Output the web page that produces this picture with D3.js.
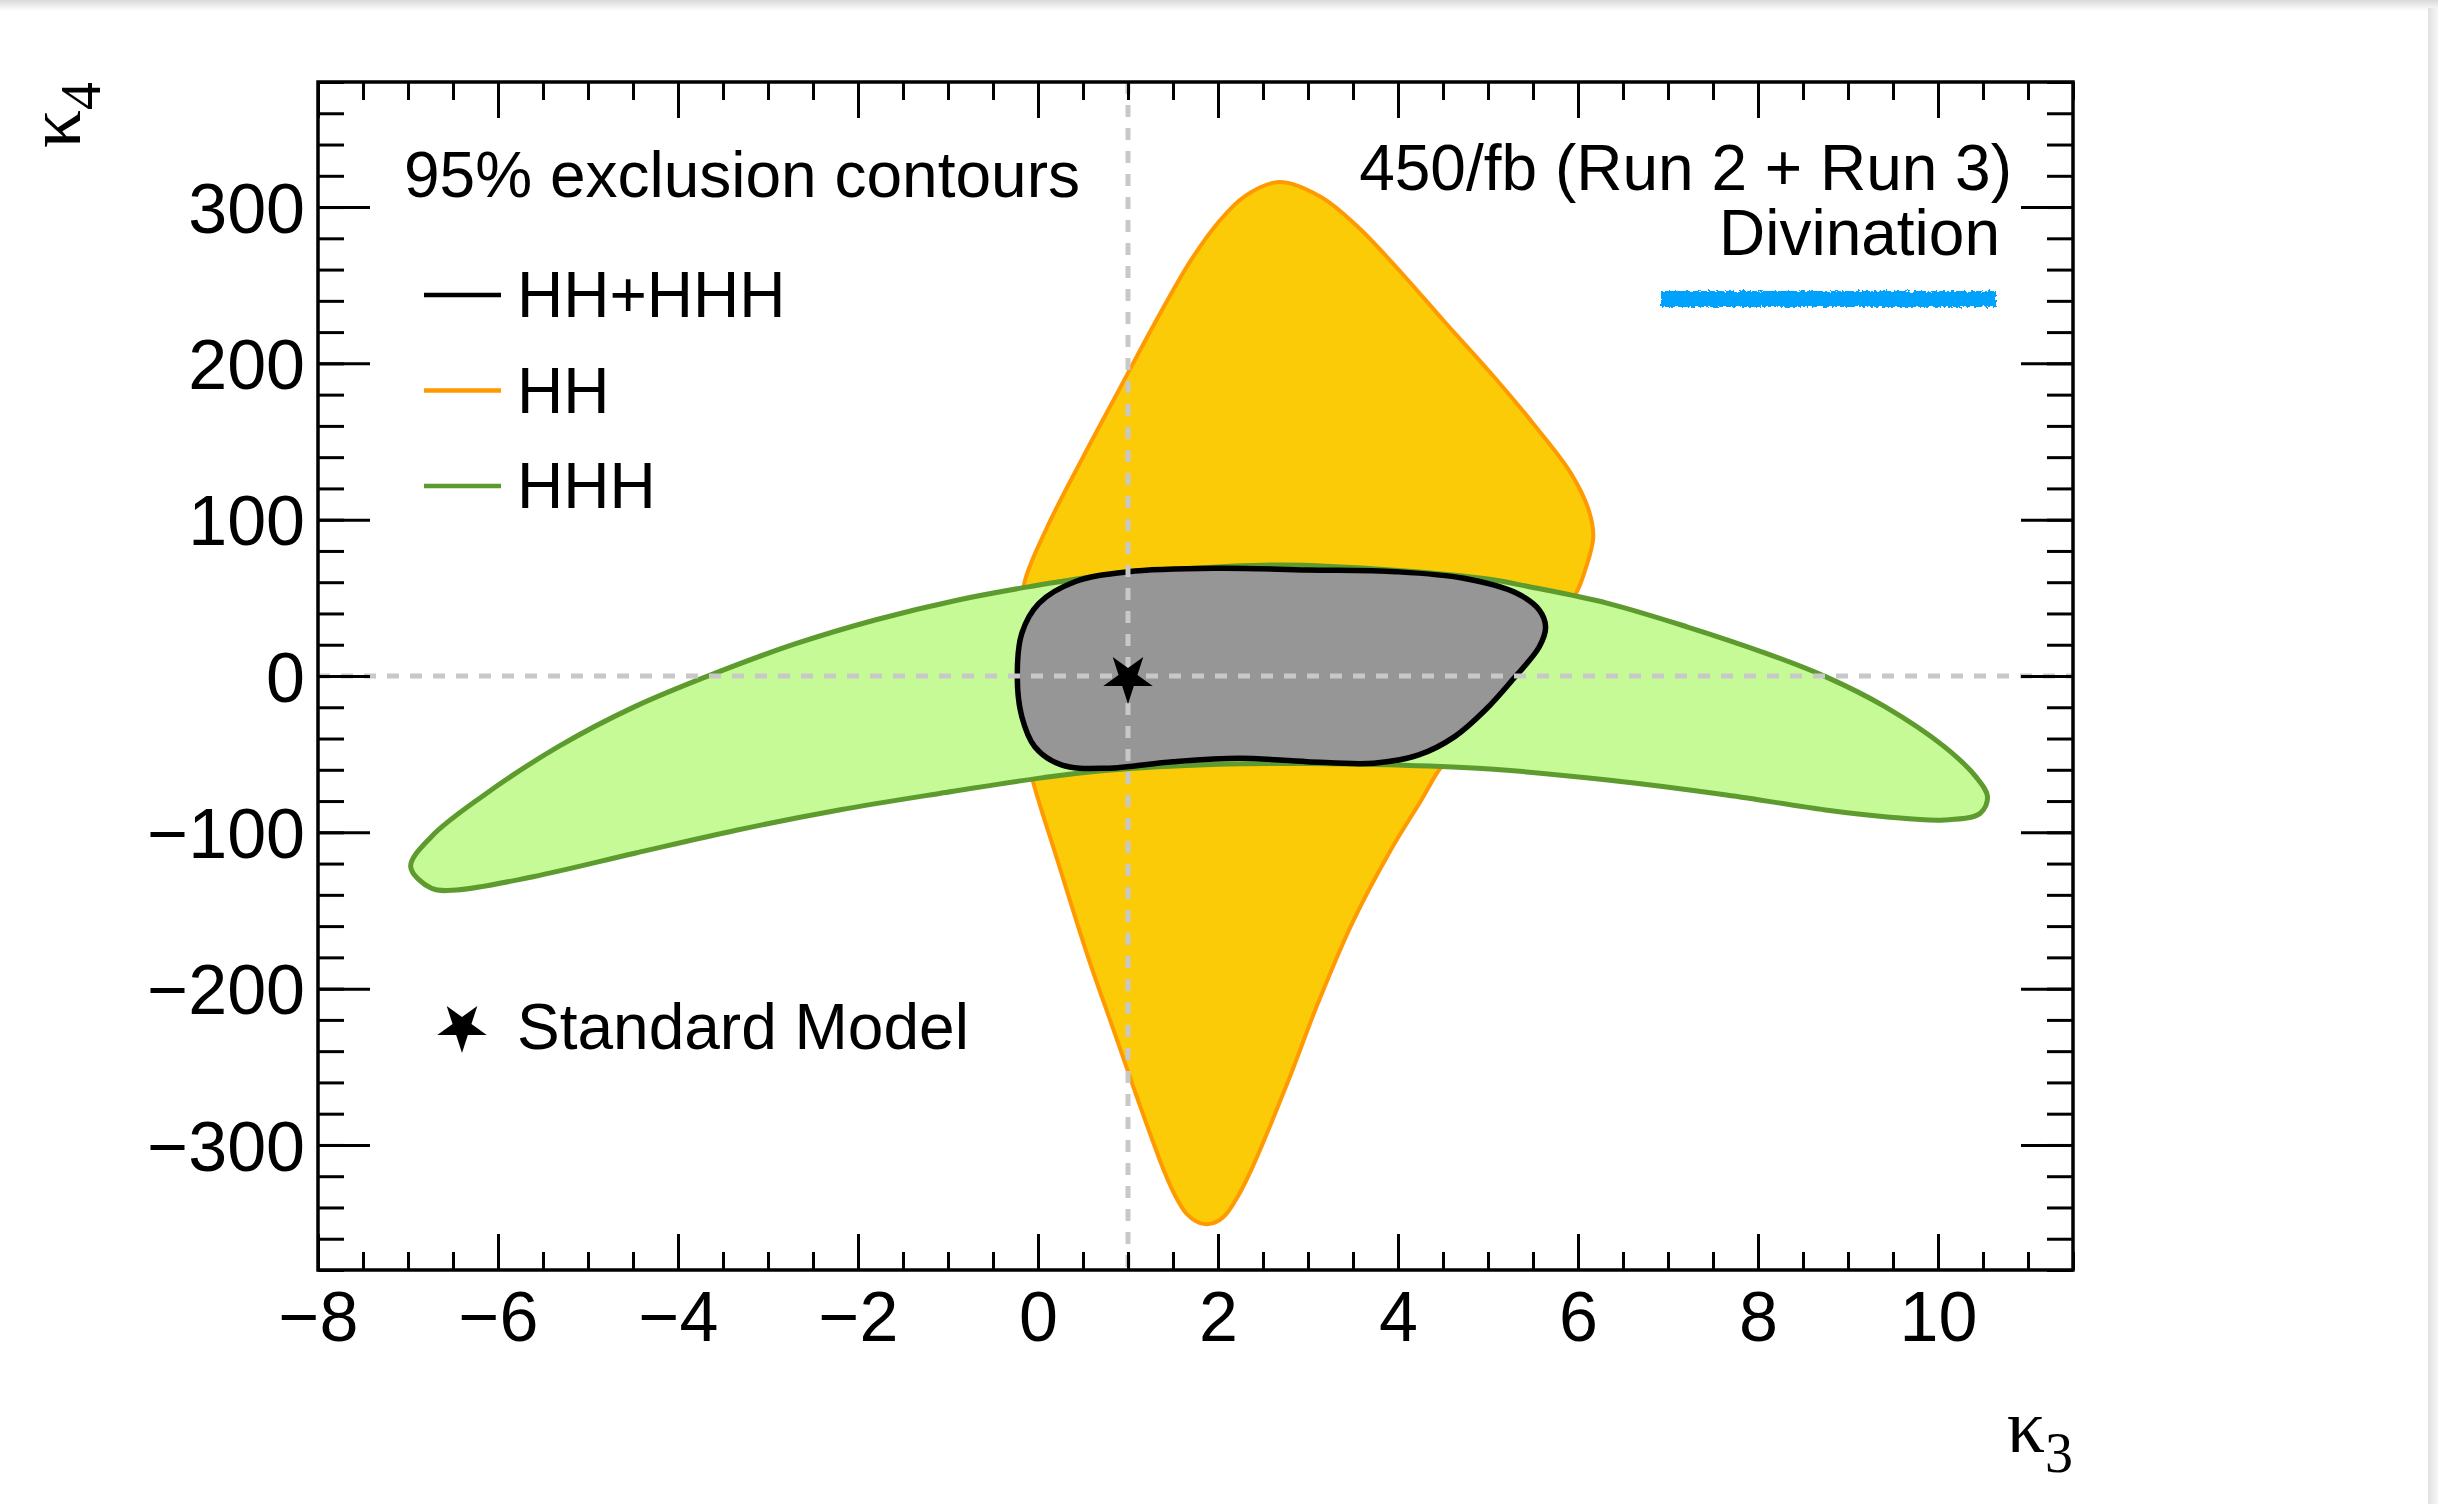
<!DOCTYPE html>
<html>
<head>
<meta charset="utf-8">
<script src="https://cdn.jsdelivr.net/npm/d3@7"></script>
<style>
  html, body { margin: 0; padding: 0; background: #fff; }
  svg { display: block; }
</style>
</head>
<body>
<svg id="chart" width="2438" height="1504"></svg>
<script>
// ---------------- DATA ----------------
// 95% exclusion contour of HH alone (kappa3, kappa4)
const hhContour = [
  [2.68,316],[3.14,306.6],[3.55,287.5],[4.04,257.8],[4.53,225.8],[5.03,193.8],[5.53,159.5],
  [5.92,129.8],[6.12,106],[6.17,89],[6.08,67.8],[5.98,53],[5.6,20],[5.1,-20],[4.7,-45],
  [4.47,-59],[4.26,-79.3],[3.92,-111.3],[3.49,-158.2],[3.11,-209.4],[2.77,-260.6],
  [2.385,-314],[2.22,-333],[2.08,-345],[1.95,-350],[1.80,-350],[1.65,-344],[1.52,-332],
  [1.41,-318],[1.15,-277.6],
  [0.853,-228.6],[0.555,-179.6],[0.215,-117.7],[-0.06,-66.5],[-0.18,-35],[-0.22,0],
  [-0.2,30],[-0.15,60],[0.1,95],[0.5,140],[0.9,183],[1.3,226],[1.7,266],[2.0,290],
  [2.3,307]
];
// 95% exclusion contour of HHH alone
const hhhContour = [
  [-6.97,-122],[-6.74,-102.8],[-6.18,-77.2],[-5.33,-45.2],[-4.48,-19.6],[-3.6,1.5],
  [-2.7,20.5],[-1.8,36],[-0.9,48.5],[-0.11,57],[0.62,63.5],[1.5,68],[2.7,71],
  [4.0,67.5],[5.0,62],[5.46,57.1],[6.33,46.5],[7.21,31.5],[8.09,14.5],[8.75,-0.4],
  [9.41,-19.6],[10.07,-45.2],[10.42,-64.4],[10.55,-77.2],[10.47,-87.8],[10.07,-92.1],
  [9.41,-90],[8.75,-85.7],[7.65,-76.1],[6.33,-66.5],[5.02,-59.5],[4.0,-57],[3.0,-56],
  [2.0,-56.5],[0.74,-60.5],[0.06,-65],[-1.08,-75],[-2.21,-85.7],[-3.34,-98.5],
  [-4.48,-113.4],[-5.61,-128.4],[-6.46,-136.9],[-6.74,-135.8]
];
// 95% exclusion contour of HH+HHH combined
const combinedContour = [
  [1.0,66.7],[2.0,68.9],[2.99,67.8],[3.98,66.7],[4.73,62.5],[5.32,52.9],[5.57,42.2],
  [5.64,31.5],[5.57,18.7],[5.27,-2.6],[4.97,-21.8],[4.63,-38.8],[4.23,-50.5],[3.73,-55.8],
  [2.99,-54.8],[2.24,-52.6],[1.50,-54.8],[0.76,-59],[0.26,-56.9],[-0.036,-45.2],
  [-0.18,-26],[-0.23,-0.4],[-0.18,27.3],[0.01,46.5],[0.41,60.3]
];
const smPoint = [1, 0];
const xDomain = [-8, 11.5];
const yDomain = [-380, 380];
const xMajorTicks = [-8, -6, -4, -2, 0, 2, 4, 6, 8, 10];
const yMajorTicks = [-300, -200, -100, 0, 100, 200, 300];
const legendLabels = ["HH+HHH", "HH", "HHH"];
const legendColors = ["#000000", "#ff9900", "#5e9b2e"];
const headerLeft = "95% exclusion contours";
const headerRight1 = "450/fb (Run 2 + Run 3)";
const headerRight2 = "Divination";
const smLabel = "Standard Model";

// ---------------- LAYOUT ----------------
const L = 318, R = 2073, T = 82, B = 1270;
const svg = d3.select("#chart");
const x = d3.scaleLinear().domain(xDomain).range([L, R]);
const y = d3.scaleLinear().domain(yDomain).range([B, T]);
const sans = "'Liberation Sans', Arial, Helvetica, sans-serif";
const serif = "'Liberation Serif', 'Times New Roman', serif";

// page decoration (window shadow)
const defs = svg.append("defs");
const gTop = defs.append("linearGradient").attr("id", "gTop").attr("x1", 0).attr("y1", 0).attr("x2", 0).attr("y2", 1);
gTop.append("stop").attr("offset", 0).attr("stop-color", "#d9d9d9");
gTop.append("stop").attr("offset", 1).attr("stop-color", "#ffffff");
const gRight = defs.append("linearGradient").attr("id", "gRight").attr("x1", 0).attr("y1", 0).attr("x2", 1).attr("y2", 0);
gRight.append("stop").attr("offset", 0).attr("stop-color", "#e0e0e0");
gRight.append("stop").attr("offset", 1).attr("stop-color", "#f7f7f7");
svg.append("rect").attr("x", 0).attr("y", 0).attr("width", 2438).attr("height", 1504).attr("fill", "#fff");
svg.append("rect").attr("x", 0).attr("y", 0).attr("width", 2438).attr("height", 11).attr("fill", "url(#gTop)");
svg.append("rect").attr("x", 2428).attr("y", 8).attr("width", 10).attr("height", 1496).attr("fill", "url(#gRight)");

// ---------------- CONTOURS ----------------
const line = d3.line().x(d => x(d[0])).y(d => y(d[1])).curve(d3.curveCatmullRomClosed.alpha(0.5));
svg.append("path").attr("d", line(hhContour)).attr("fill", "#fccb07").attr("stroke", "#ff9900").attr("stroke-width", 4);
svg.append("path").attr("d", line(hhhContour)).attr("fill", "#c6fa96").attr("stroke", "#5e9b2e").attr("stroke-width", 5);
svg.append("path").attr("d", line(combinedContour)).attr("fill", "#969696").attr("stroke", "#000").attr("stroke-width", 5.5);

// SM reference lines
const dash = svg.append("g").attr("stroke", "#c8c8c8").attr("stroke-width", 5).attr("stroke-dasharray", "12,11");
dash.append("line").attr("x1", x(smPoint[0])).attr("x2", x(smPoint[0])).attr("y1", T).attr("y2", B);
dash.append("line").attr("x1", L).attr("x2", R).attr("y1", y(smPoint[1])).attr("y2", y(smPoint[1]));

// SM star
const star = d3.symbol().type(d3.symbolStar).size(760);
svg.append("path").attr("d", star()).attr("fill", "#000")
  .attr("transform", `translate(${x(smPoint[0])},${y(smPoint[1]) + 2}) rotate(180)`);

// ---------------- AXES ----------------
const xMinor = d3.range(xDomain[0], xDomain[1] + 0.001, 0.5);
const yMinor = d3.range(yDomain[0], yDomain[1] + 0.001, 20);
function styleAxis(g) {
  g.select(".domain").remove();
  g.selectAll(".tick line").attr("stroke", "#000").attr("stroke-width", 3);
}
// bottom
svg.append("g").attr("transform", `translate(0,${B})`)
  .call(d3.axisBottom(x).tickValues(xMinor).tickSize(-18).tickFormat(""))
  .call(styleAxis);
const xAx = svg.append("g").attr("transform", `translate(0,${B})`)
  .call(d3.axisBottom(x).tickValues(xMajorTicks).tickSize(-36))
  .call(styleAxis);
xAx.selectAll(".tick text").attr("y", 71).attr("dy", null)
  .attr("font-family", sans).attr("font-size", 70).attr("fill", "#000").attr("text-anchor", "middle");
// top
svg.append("g").attr("transform", `translate(0,${T})`)
  .call(d3.axisTop(x).tickValues(xMinor).tickSize(-18).tickFormat("")).call(styleAxis);
svg.append("g").attr("transform", `translate(0,${T})`)
  .call(d3.axisTop(x).tickValues(xMajorTicks).tickSize(-36).tickFormat("")).call(styleAxis);
// left
svg.append("g").attr("transform", `translate(${L},0)`)
  .call(d3.axisLeft(y).tickValues(yMinor).tickSize(-26).tickFormat("")).call(styleAxis);
const yAx = svg.append("g").attr("transform", `translate(${L},0)`)
  .call(d3.axisLeft(y).tickValues(yMajorTicks).tickSize(-52))
  .call(styleAxis);
yAx.selectAll(".tick text").attr("x", -13).attr("dy", "0.36em")
  .attr("font-family", sans).attr("font-size", 70).attr("fill", "#000").attr("text-anchor", "end");
// right
svg.append("g").attr("transform", `translate(${R},0)`)
  .call(d3.axisRight(y).tickValues(yMinor).tickSize(-26).tickFormat("")).call(styleAxis);
svg.append("g").attr("transform", `translate(${R},0)`)
  .call(d3.axisRight(y).tickValues(yMajorTicks).tickSize(-52).tickFormat("")).call(styleAxis);

// frame
svg.append("rect").attr("x", L).attr("y", T).attr("width", R - L).attr("height", B - T)
  .attr("fill", "none").attr("stroke", "#000").attr("stroke-width", 3.5);

// axis titles
const k3 = svg.append("text").attr("x", R).attr("y", 1452).attr("text-anchor", "end")
  .attr("font-family", serif).attr("font-size", 76).attr("fill", "#000");
k3.append("tspan").text("κ");
k3.append("tspan").attr("font-size", 56).attr("dy", 20).text("3");
const k4 = svg.append("text").attr("transform", `translate(80,${T}) rotate(-90)`).attr("text-anchor", "end")
  .attr("font-family", serif).attr("font-size", 76).attr("fill", "#000");
k4.append("tspan").text("κ");
k4.append("tspan").attr("font-size", 56).attr("dy", 20).text("4");

// ---------------- TEXT & LEGEND ----------------
svg.append("text").attr("x", 404).attr("y", 197).attr("font-family", sans).attr("font-size", 64).text(headerLeft);
svg.append("text").attr("x", 2012).attr("y", 190).attr("text-anchor", "end").attr("font-family", sans).attr("font-size", 64).text(headerRight1);
svg.append("text").attr("x", 2000).attr("y", 255).attr("text-anchor", "end").attr("font-family", sans).attr("font-size", 64).text(headerRight2);
// blue scribble mark
const turb = defs.append("filter").attr("id", "rough").attr("x", "-5%").attr("y", "-50%").attr("width", "110%").attr("height", "200%");
turb.append("feTurbulence").attr("type", "fractalNoise").attr("baseFrequency", "0.35").attr("numOctaves", 2).attr("seed", 3).attr("result", "n");
turb.append("feDisplacementMap").attr("in", "SourceGraphic").attr("in2", "n").attr("scale", 6);
svg.append("rect").attr("x", 1661).attr("y", 291).attr("width", 335).attr("height", 16)
  .attr("fill", "#03a2fb").attr("filter", "url(#rough)");

const legY = [295, 390.5, 486];
legendLabels.forEach((lab, i) => {
  svg.append("line").attr("x1", 424).attr("x2", 501).attr("y1", legY[i]).attr("y2", legY[i])
    .attr("stroke", legendColors[i]).attr("stroke-width", 4.5);
  svg.append("text").attr("x", 517).attr("y", legY[i] + 22).attr("font-family", sans).attr("font-size", 64).text(lab);
});
svg.append("path").attr("d", star()).attr("fill", "#000").attr("transform", "translate(462,1027) rotate(180)");
svg.append("text").attr("x", 517).attr("y", 1049).attr("font-family", sans).attr("font-size", 64).text(smLabel);
</script>
</body>
</html>
